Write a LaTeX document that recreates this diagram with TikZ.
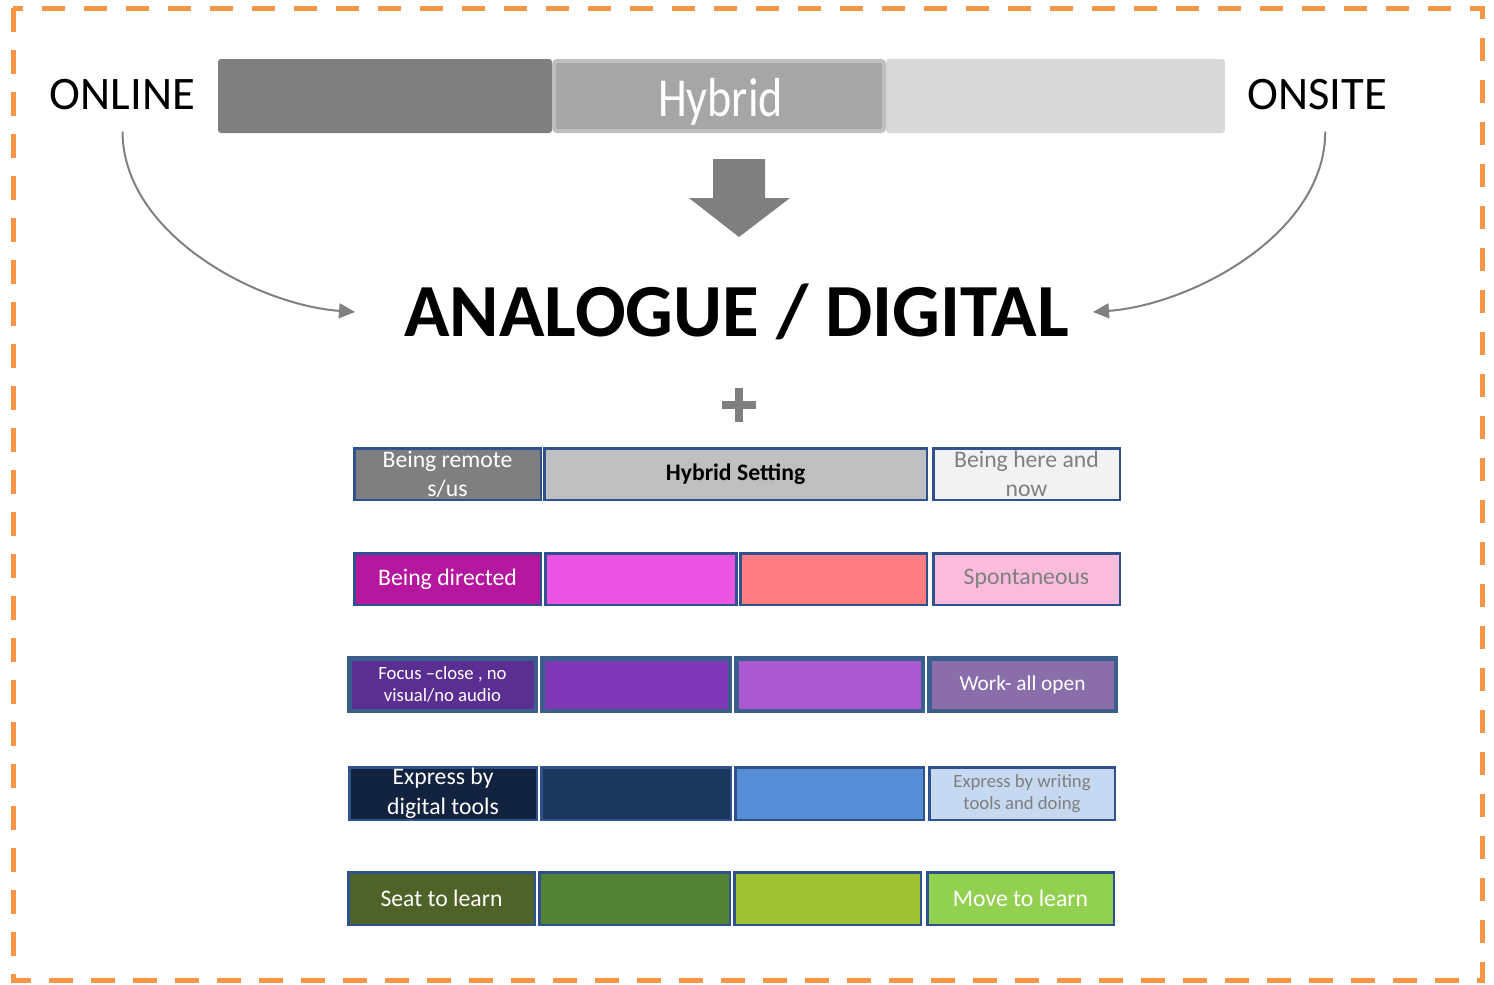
\documentclass[tikz,border=0pt]{standalone}
\usepackage{fontspec}
\usepackage{graphicx}
\setmainfont{Carlito}
\usetikzlibrary{arrows.meta}
\definecolor{frameor}{HTML}{F79646}
\definecolor{arrgray}{HTML}{808080}
\definecolor{barL}{HTML}{7F7F7F}
\definecolor{barM}{HTML}{A6A6A6}
\definecolor{barMb}{HTML}{BFBFBF}
\definecolor{barR}{HTML}{D9D9D9}
\definecolor{cellblue}{HTML}{2F528F}
\definecolor{cellblueB}{HTML}{3A5F8C}
\definecolor{txtgray}{HTML}{7F7F7F}
\definecolor{ra}{HTML}{7F7F7F}
\definecolor{rb}{HTML}{BFBFBF}
\definecolor{rc}{HTML}{F2F2F2}
\definecolor{sa}{HTML}{B5179E}
\definecolor{sb}{HTML}{E954E0}
\definecolor{sc}{HTML}{FF7C80}
\definecolor{sd}{HTML}{FBBCDC}
\definecolor{ta}{HTML}{5B2F91}
\definecolor{tb}{HTML}{7E38B6}
\definecolor{tc}{HTML}{AA5ACE}
\definecolor{td}{HTML}{8A6EAA}
\definecolor{ua}{HTML}{11233F}
\definecolor{ub}{HTML}{1B375D}
\definecolor{uc}{HTML}{558ED5}
\definecolor{ud}{HTML}{C6D9F1}
\definecolor{va}{HTML}{4F6228}
\definecolor{vb}{HTML}{548235}
\definecolor{vc}{HTML}{A1C232}
\definecolor{vd}{HTML}{92D050}
\begin{document}
\begin{tikzpicture}[x=1pt,y=-1pt,
  seg/.style={inner sep=0pt, rounded corners=3pt},
  bigword/.style={anchor=base, inner sep=0pt, font=\fontsize{46.6}{50}\selectfont},
  curvearr/.style={draw=arrgray, line width=2pt, -{Triangle[length=16pt,width=15pt]}},
  cell/.style={draw=cellblue, line width=2.5pt, inner sep=0pt, align=center, text=white,
    minimum height=51.5pt, font=\fontsize{23.7}{29}\selectfont},
  cellthick/.style={cell, draw=cellblueB, line width=4.5pt, minimum height=52.5pt},
  cellfive/.style={cell, minimum height=52.5pt},
  smalltxt/.style={font=\fontsize{18.7}{21.5}\selectfont}
]
\useasboundingbox (0,0) rectangle (1494,985);
% dashed frame
\draw[frameor, line width=5pt, dash pattern=on 23.5pt off 18.5pt] (13,8) rectangle (1482,980);

% top bar
\node[seg, fill=barL, minimum width=334pt, minimum height=74pt] (barl) at (385,96) {};
\node[seg, fill=barR, minimum width=339pt, minimum height=74pt] (barr) at (1055.5,96) {};
\node[seg, fill=barM, draw=barMb, line width=4pt, minimum width=330pt, minimum height=70pt] (barm) at (719,96) {};
\node[anchor=base, inner sep=0pt, text=white, font=\fontsize{55}{60}\selectfont] (hyb) at (720.5,116) {\scalebox{0.84}[1]{Hybrid}};

% side words
\node[bigword] (online) at (122.5,109) {ONLINE};
\node[bigword] (onsite) at (1317.3,109) {ONSITE};

% block arrow
\fill[barL] (713,159) -- (765,159) -- (765,198) -- (790,198) -- (739,237) -- (689,198) -- (713,198) -- cycle;

% title
\node[anchor=base, inner sep=0pt, font=\bfseries\fontsize{75}{80}\selectfont] (title) at (736.5,336) {ANALOGUE / DIGITAL};
\coordinate (ltip) at (355,312);
\coordinate (rtip) at (1093,312);
\draw[curvearr] ([yshift=-22pt]online.south) .. controls (123,235) and (258,305) .. (ltip);
\draw[curvearr] ([xshift=8pt,yshift=-22pt]onsite.south) .. controls (1325,235) and (1190,305) .. (rtip);

% plus
\draw[arrgray, line width=8pt] (722,405) -- (756,405);
\draw[arrgray, line width=8pt] (739,388) -- (739,422);

% row 1
\node[cell, fill=ra, minimum width=186.5pt] (r1a) at (447.5,474) {Being remote\\s/us};
\node[cell, fill=rb, minimum width=382.5pt, text=black, font=\bfseries\fontsize{23.7}{29}\selectfont] (r1b) at (735.5,474) {Hybrid Setting};
\node[cell, fill=rc, minimum width=186.5pt, text=txtgray] (r1c) at (1026.5,474) {Being here and\\now};

% row 2
\node[cell, fill=sa, minimum width=186.5pt] (r2a) at (447.5,579) {Being directed};
\node[cell, fill=sb, minimum width=191pt] (r2b) at (640.75,579) {};
\node[cell, fill=sc, minimum width=186.5pt] (r2c) at (833.5,579) {};
\node[cell, fill=sd, minimum width=186.5pt, text=txtgray] (r2d) at (1026.5,579) {Spontaneous};

% row 3
\node[cellthick, fill=ta, minimum width=186.5pt, smalltxt] (r3a) at (442.5,684.5) {Focus --close , no\\visual/no audio};
\node[cellthick, fill=tb, minimum width=187.5pt] (r3b) at (636,684.5) {};
\node[cellthick, fill=tc, minimum width=186.5pt] (r3c) at (829.5,684.5) {};
\node[cellthick, fill=td, minimum width=186.5pt, font=\fontsize{21.3}{24}\selectfont] (r3d) at (1022.5,684.5) {Work- all open};

% row 4
\node[cellfive, fill=ua, minimum width=187.5pt, font=\fontsize{23.7}{30}\selectfont] (r4a) at (443,793.5) {Express by\\digital tools};
\node[cellfive, fill=ub, minimum width=189.5pt] (r4b) at (636,793.5) {};
\node[cellfive, fill=uc, minimum width=188.5pt] (r4c) at (829.5,793.5) {};
\node[cellfive, fill=ud, minimum width=185.5pt, text=txtgray, font=\fontsize{18.7}{22}\selectfont] (r4d) at (1022,793.5) {Express by writing\\tools and doing};

% row 5
\node[cellfive, fill=va, minimum width=186.5pt] (r5a) at (441.5,898.5) {Seat to learn};
\node[cellfive, fill=vb, minimum width=190.5pt] (r5b) at (634.5,898.5) {};
\node[cellfive, fill=vc, minimum width=186.5pt] (r5c) at (827.5,898.5) {};
\node[cellfive, fill=vd, minimum width=186.5pt] (r5d) at (1020.5,898.5) {Move to learn};
\end{tikzpicture}
\end{document}
